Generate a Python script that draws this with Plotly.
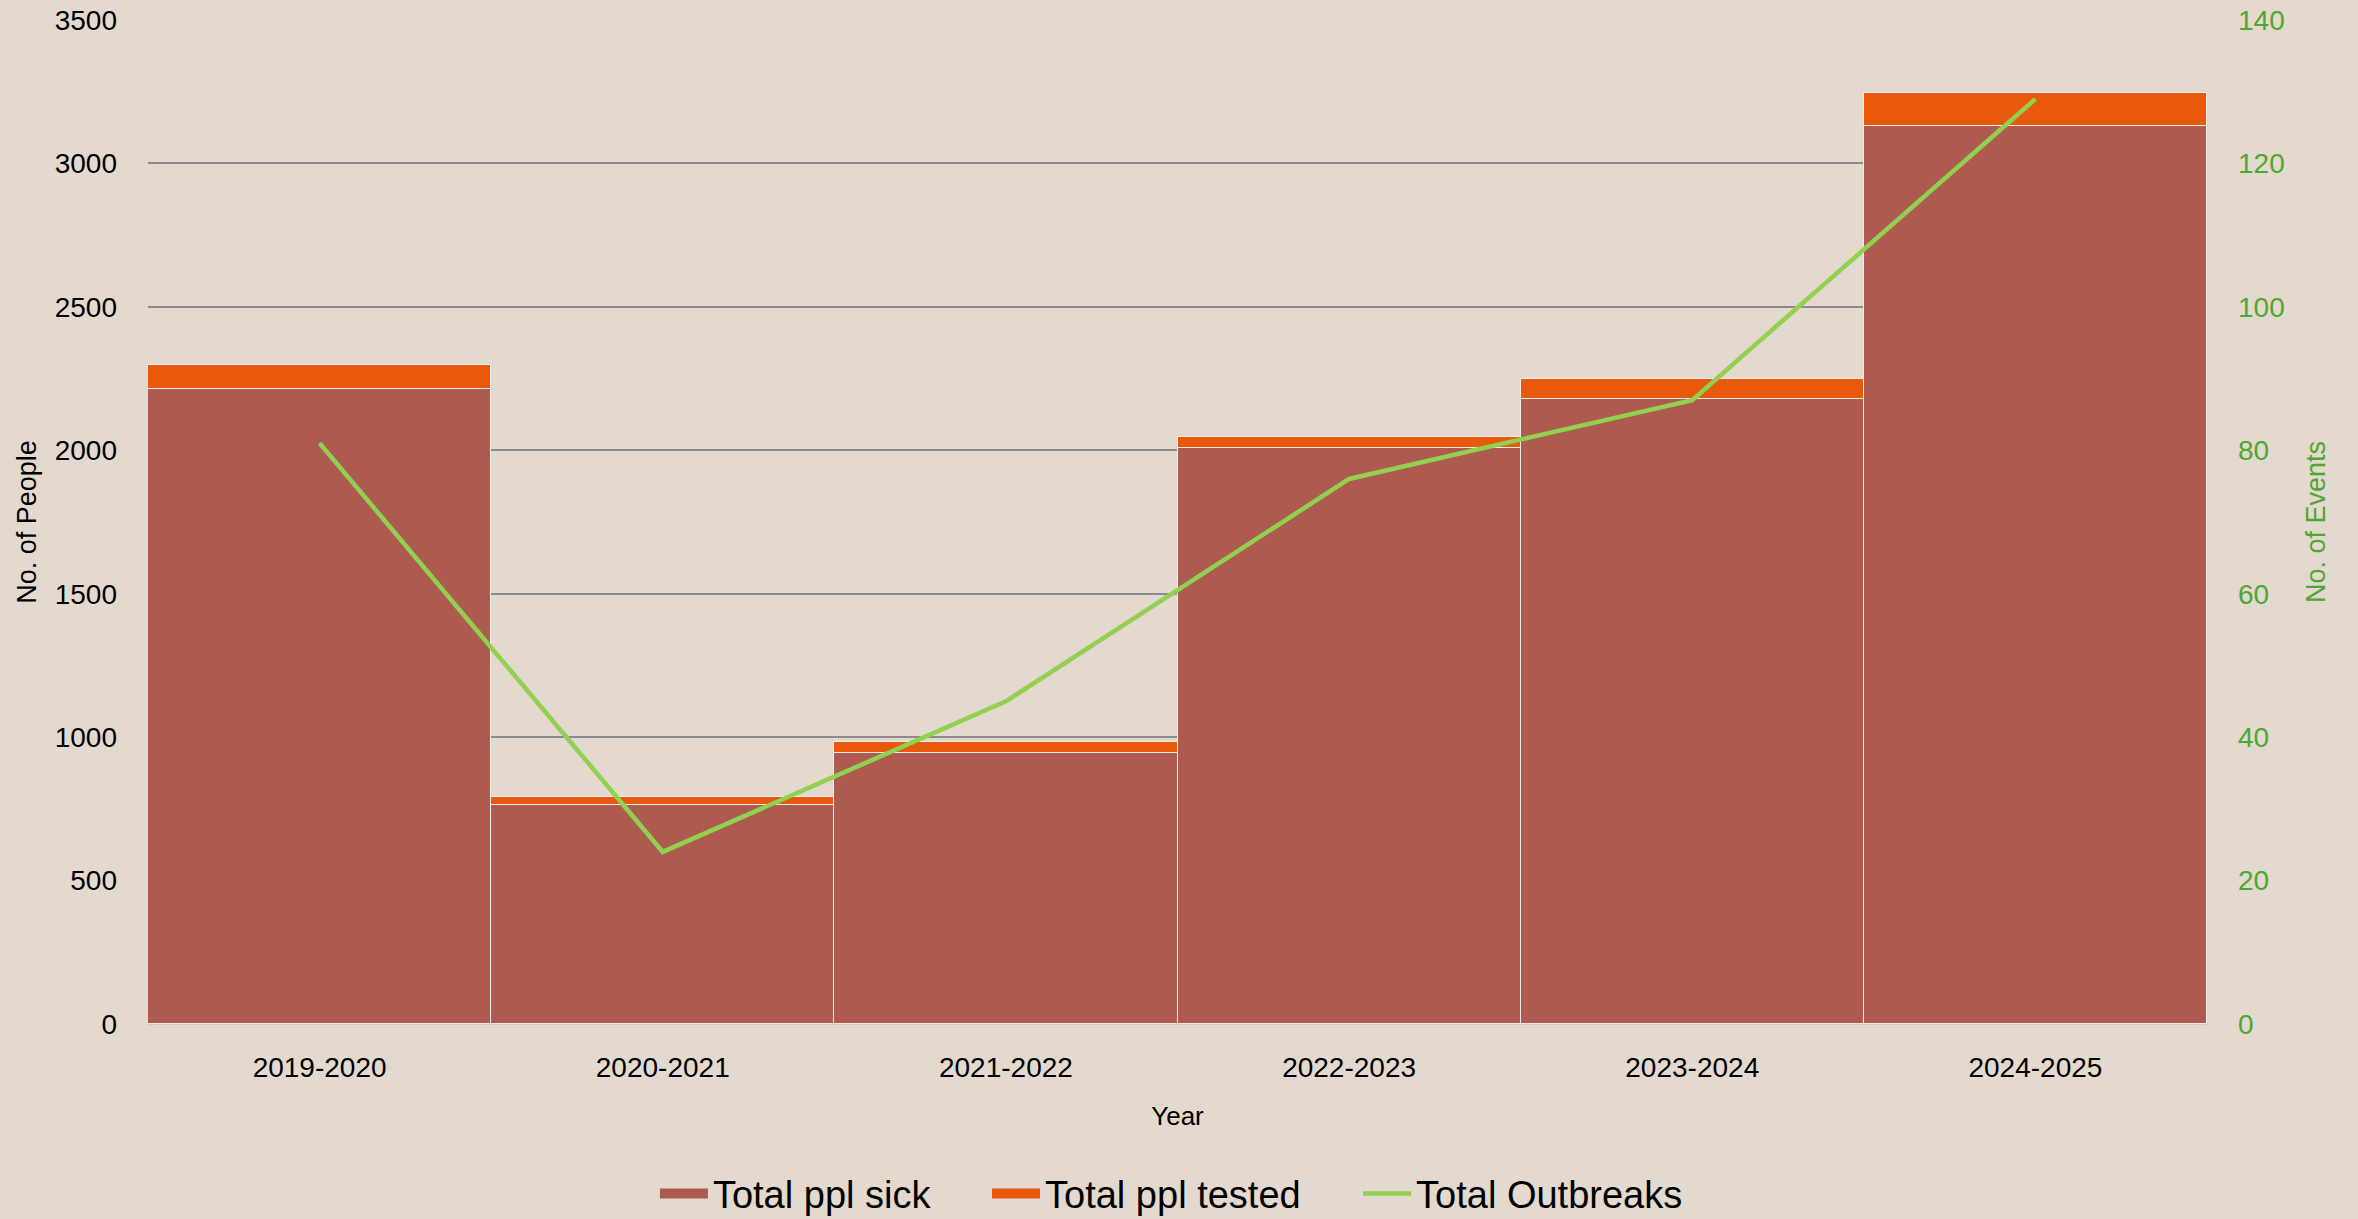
import plotly.graph_objects as go

years = ["2019-2020", "2020-2021", "2021-2022", "2022-2023", "2023-2024", "2024-2025"]
ppl_sick = [2214, 763, 944, 2007, 2179, 3130]
ppl_tested = [83, 29, 38, 40, 68, 117]
outbreaks = [81, 24, 45, 76, 87, 129]

left_ticks = [0, 500, 1000, 1500, 2000, 2500, 3000, 3500]
right_ticks = [0, 20, 40, 60, 80, 100, 120, 140]

BG = "#E3D9CF"
SICK = "#AD5B4E"
TESTED = "#E8590C"
LINE = "#92D050"
GREEN_TXT = "#4EA72E"
FONT = "Liberation Sans, Arial"

fig = go.Figure()
fig.add_trace(go.Bar(x=years, y=ppl_sick, name="Total ppl sick", showlegend=False,
                     marker=dict(color=SICK, line=dict(color="#F2ECE6", width=1.5))))
fig.add_trace(go.Bar(x=years, y=ppl_tested, name="Total ppl tested", showlegend=False,
                     marker=dict(color=TESTED, line=dict(color="#F2ECE6", width=1.5))))
# legend-only entries giving wide rectangular swatches like the original
fig.add_trace(go.Scatter(x=[None], y=[None], mode="lines", name="Total ppl sick",
                         line=dict(color=SICK, width=23), legend="legend"))
fig.add_trace(go.Scatter(x=[None], y=[None], mode="lines", name="Total ppl tested",
                         line=dict(color=TESTED, width=23), legend="legend2"))
fig.add_trace(go.Scatter(x=years, y=outbreaks, name="Total Outbreaks", mode="lines",
                         line=dict(color=LINE, width=4.5), yaxis="y2", legend="legend3"))

leg_common = dict(orientation="h", xanchor="left", y=-0.169, yanchor="middle",
                  font=dict(size=38), bgcolor="rgba(0,0,0,0)", itemwidth=48)

fig.update_layout(
    width=2358, height=1219,
    paper_bgcolor=BG, plot_bgcolor=BG,
    barmode="stack", bargap=0,
    margin=dict(l=148, r=151, t=20, b=195, autoexpand=False),
    font=dict(family=FONT, color="#000000"),
    xaxis=dict(
        title=dict(text="Year", font=dict(size=26), standoff=24),
        tickfont=dict(size=28),
        showgrid=False, zeroline=False, showline=False, ticks="",
        ticklabelstandoff=24,
    ),
    yaxis=dict(
        title=dict(text="No. of People", font=dict(size=27), standoff=10),
        range=[0, 3500], tickvals=left_ticks,
        tickfont=dict(size=28),
        showgrid=True, gridcolor="#8A8A8A", gridwidth=2,
        zeroline=True, zerolinecolor="#D2C9C0", zerolinewidth=2,
        showline=False, ticks="", ticklabelstandoff=30,
    ),
    yaxis2=dict(
        title=dict(text="No. of Events", font=dict(size=27, color=GREEN_TXT), standoff=22),
        overlaying="y", side="right",
        range=[0, 140], tickvals=right_ticks,
        tickfont=dict(size=28, color=GREEN_TXT),
        showgrid=False, zeroline=False, showline=False, ticks="", ticklabelstandoff=30,
    ),
    legend=dict(x=0.2462, **leg_common),
    legend2=dict(x=0.4075, **leg_common),
    legend3=dict(x=0.5877, **leg_common),
    hovermode=False,
)

fig.write_html("out.html", config={"displayModeBar": False},
               post_script="document.body.style.margin='0';document.body.style.padding='0';")
